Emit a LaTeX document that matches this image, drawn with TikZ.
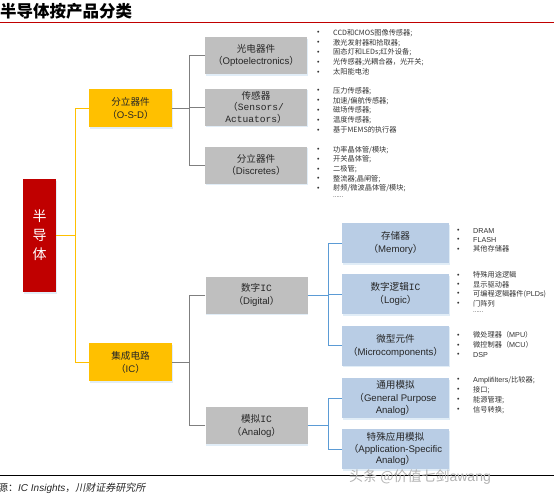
\documentclass[tikz,border=0pt]{standalone}
\usepackage{fontspec}
\setmainfont{Noto Sans CJK SC}
\newfontfamily\lat{Liberation Sans}
\newfontfamily\mono{Liberation Mono}
\newfontfamily\cjkit[FakeSlant=0.2]{Noto Sans CJK SC}
\usetikzlibrary{shadows}
\definecolor{redc}{HTML}{C00000}
\definecolor{yelc}{HTML}{FFC000}
\definecolor{grayc}{HTML}{BFBFBF}
\definecolor{bluec}{HTML}{B9CDE5}
\definecolor{glin}{HTML}{7F7F7F}
\definecolor{blin}{HTML}{5B9BD5}
\newcommand{\bul}{\makebox[16pt][l]{\raisebox{0.5pt}{\lat\fontsize{7}{7}\selectfont •}}}
\tikzset{
  box/.style={align=center, inner sep=1pt, text=black!85,
    font=\fontsize{9.6}{13}\selectfont,
    drop shadow={shadow xshift=0.8pt, shadow yshift=-1.6pt, opacity=0.18, fill=blin}},
  osdbox/.style={box, fill=yelc, minimum width=83pt, minimum height=38pt},
  gbox/.style={box, fill=grayc, minimum width=102pt, minimum height=37pt},
  bbox/.style={box, fill=bluec, minimum width=107pt, minimum height=40pt},
  item/.style={anchor=west, inner sep=0pt, text=black!80, font=\fontsize{7.2}{8}\selectfont},
  yl/.style={draw=yelc, line width=0.9pt},
  gl/.style={draw=glin, line width=0.9pt},
  bl/.style={draw=blin, line width=0.9pt}
}
\begin{document}
\begin{tikzpicture}[x=1pt,y=-1pt]
\useasboundingbox (0,0) rectangle (554,495);
% title
\node[anchor=west, inner sep=0pt, font=\bfseries\fontsize{16.5}{18}\selectfont] (title) at (0,11.5) {半导体按产品分类};
\draw[redc, line width=1.4pt] (0,22.5) -- (554,22.5);
% root
\node[fill=redc, minimum width=33pt, minimum height=113pt, text=white, align=center,
  font=\fontsize{14}{19}\selectfont,
  drop shadow={shadow xshift=0.8pt, shadow yshift=-1.6pt, opacity=0.18, fill=blin}] (root) at (39.5,235.5) {半\\导\\体};
% level 1
\node[osdbox] (osd) at (130.5,108) {分立器件\\（{\lat O-S-D}）};
\node[osdbox] (ic) at (130.5,362) {集成电路\\（{\lat IC}）};
% level 2
\node[gbox, font=\fontsize{9.6}{12}\selectfont] (opto) at (256,55.5) {光电器件\\（{\lat Optoelectronics}）};
\node[gbox, font=\fontsize{9.6}{11.5}\selectfont] (sens) at (256,107) {传感器\\（{\mono Sensors/}\\{\mono Actuators}）};
\node[gbox, font=\fontsize{9.6}{12}\selectfont] (disc) at (256,165) {分立器件\\（{\lat Discretes}）};
\node[gbox] (dig) at (256.5,295) {数字{\mono IC}\\（{\lat Digital}）};
\node[gbox] (ana) at (256.5,425.5) {模拟{\mono IC}\\（{\lat Analog}）};
% level 3
\node[bbox] (mem) at (395.5,243) {存储器\\（{\lat Memory}）};
\node[bbox] (logic) at (395.5,294) {数字逻辑{\mono IC}\\（{\lat Logic}）};
\node[bbox] (micro) at (395.5,345.5) {微型元件\\（{\lat Microcomponents}）};
\node[bbox, font=\fontsize{9.6}{12.5}\selectfont] (gen) at (395.5,398) {通用模拟\\（{\lat General Purpose}\\{\lat Analog}）};
\node[bbox, font=\fontsize{9.6}{11.5}\selectfont] (app) at (395.5,449) {特殊应用模拟\\（{\lat Application-Specific}\\{\lat Analog}）};
% connectors
\coordinate (yj) at (75,235.5);
\draw[yl] (root.east) -- (yj);
\draw[yl] (osd.west) -| (yj);
\draw[yl] (ic.west) -| (yj);
\coordinate (gj1) at (189,108);
\draw[gl] (osd.east) -- (gj1);
\draw[gl] (opto.west) -| (gj1);
\draw[gl] (sens.west) -| (gj1);
\draw[gl] (disc.west) -| (gj1);
\coordinate (gj2) at (189,362);
\draw[gl] (ic.east) -- (gj2);
\draw[gl] (dig.west) -| (gj2);
\draw[gl] (ana.west) -| (gj2);
\coordinate (bj1) at (328,295);
\draw[bl] (dig.east) -- (bj1);
\draw[bl] (mem.west) -| (bj1);
\draw[bl] (logic.west) -| (bj1);
\draw[bl] (micro.west) -| (bj1);
\coordinate (bj2) at (328,425.5);
\draw[bl] (ana.east) -- (bj2);
\draw[bl] (gen.west) -| (bj2);
\draw[bl] (app.west) -| (bj2);
% lists
\foreach \t [count=\i] in {{CCD和CMOS图像传感器;},{激光发射器和拾取器;},{固态灯和LEDs;红外设备;},{光传感器;光耦合器，光开关;},{太阳能电池}}
  \node[item] (op\i) at (317,{33+9.8*(\i-1)}) {\bul\t};
\foreach \t [count=\i] in {{压力传感器;},{加速/偏航传感器;},{磁场传感器;},{温度传感器;},{基于MEMS的执行器}}
  \node[item] (se\i) at (317,{91+9.8*(\i-1)}) {\bul\t};
\foreach \t [count=\i] in {{功率晶体管/模块;},{开关晶体管;},{二极管;},{整流器;晶闸管;},{射频/微波晶体管/模块;}}
  \node[item] (di\i) at (317,{150+9.6*(\i-1)}) {\bul\t};
\node[item] (di6) at (317,197) {\makebox[16pt][l]{}{\lat\fontsize{6}{7}\selectfont ......}};
\foreach \t [count=\i] in {{\lat DRAM},{\lat FLASH},{其他存储器}}
  \node[item] (me\i) at (457,{231+9*(\i-1)}) {\bul\t};
\foreach \t [count=\i] in {{特殊用途逻辑},{显示驱动器},{可编程逻辑器件({\lat PLDs})},{门阵列}}
  \node[item] (lo\i) at (457,{275+9.5*(\i-1)}) {\bul\t};
\node[item] (lo5) at (457,312) {\makebox[16pt][l]{}{\lat\fontsize{6}{7}\selectfont ......}};
\foreach \t [count=\i] in {{微处理器（{\lat MPU}）},{微控制器（{\lat MCU}）},{\lat DSP}}
  \node[item] (mi\i) at (457,{335+10*(\i-1)}) {\bul\t};
\foreach \t [count=\i] in {{{\lat Amplifilters}/比较器;},{接口;},{能源管理;},{信号转换;}}
  \node[item] (ge\i) at (457,{380+10*(\i-1)}) {\bul\t};
% bottom
\draw[line width=0.8pt] (0,475) -- (554,475);
\node[anchor=west, inner sep=0pt, text=black!85, font=\fontsize{10}{12}\selectfont] (src) at (-2,488.5) {源：{\lat\itshape IC Insights}，{\cjkit 川财证券研究所}};
\node[anchor=west, inner sep=0pt, text=gray!60, font=\fontsize{14}{15}\selectfont] (wm) at (349,477) {头条 @价值七剑{\lat awang}};
\end{tikzpicture}
\end{document}
